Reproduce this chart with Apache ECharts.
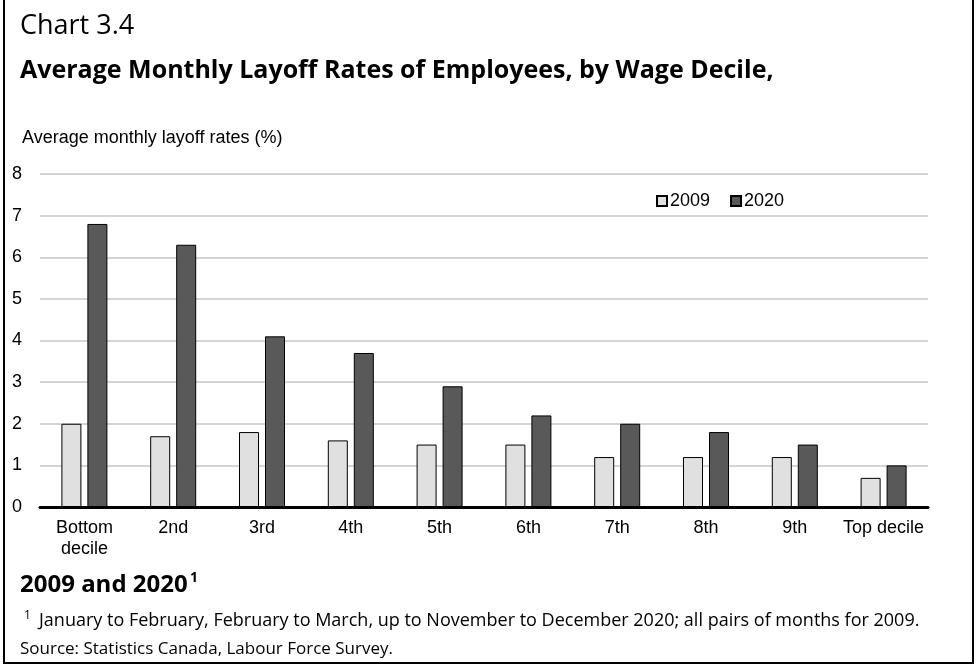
<!DOCTYPE html>
<html>
<head>
<meta charset="utf-8">
<script src="https://cdn.jsdelivr.net/npm/echarts@6/dist/echarts.min.js"></script>
<style>
  html, body { margin: 0; padding: 0; background: #fff; }
  #chart { width: 977px; height: 668px; }
</style>
</head>
<body>
<div id="chart"></div>
<script>
// Wage deciles and average monthly layoff rates (%)
const categories = ['Bottom\ndecile', '2nd', '3rd', '4th', '5th', '6th', '7th', '8th', '9th', 'Top decile'];
const rates2009 = [2.0, 1.7, 1.8, 1.6, 1.5, 1.5, 1.2, 1.2, 1.2, 0.7];
const rates2020 = [6.8, 6.3, 4.1, 3.7, 2.9, 2.2, 2.0, 1.8, 1.5, 1.0];
const yTicks = [0, 1, 2, 3, 4, 5, 6, 7, 8];

const axisFont = 'Liberation Sans, Arial, sans-serif';
const textFont = '"Open Sans", "Noto Sans", sans-serif';

const chart = echarts.init(document.getElementById('chart'), null, { renderer: 'canvas' });

chart.setOption({
  animation: false,
  backgroundColor: '#ffffff',
  grid: { left: 40, right: 49, top: 174, bottom: 161, containLabel: false },
  legend: {
    data: ['2009', '2020'],
    left: 651, top: 187,
    itemWidth: 10, itemHeight: 10, itemGap: 20,
    textStyle: { fontFamily: axisFont, fontSize: 18, color: '#000', padding: [0, 0, 0, -2] },
    icon: 'rect'
  },
  xAxis: {
    type: 'category',
    data: categories,
    axisLine: { lineStyle: { color: '#000', width: 3 } },
    axisTick: { show: false },
    axisLabel: { fontFamily: axisFont, fontSize: 18, color: '#000', margin: 11, lineHeight: 21, interval: 0 }
  },
  yAxis: {
    type: 'value',
    min: yTicks[0], max: yTicks[yTicks.length - 1], interval: 1,
    axisLine: { show: false },
    axisTick: { show: false },
    axisLabel: { fontFamily: axisFont, fontSize: 18, color: '#000', margin: 18 },
    splitLine: { lineStyle: { color: '#d4d4d4', width: 2 } }
  },
  series: [
    {
      name: '2009', type: 'bar', data: rates2009,
      barWidth: 20, barGap: '30%',
      itemStyle: { color: '#e0e0e0', borderColor: '#000', borderWidth: 1 }
    },
    {
      name: '2020', type: 'bar', data: rates2020,
      barWidth: 20,
      itemStyle: { color: '#595959', borderColor: '#000', borderWidth: 1 }
    }
  ],
  graphic: [
    { type: 'rect', shape: { x: 4, y: -4, width: 969, height: 667 }, style: { fill: 'none', stroke: '#000', lineWidth: 2 }, silent: true },
    { type: 'text', left: 20, top: 13, style: { text: 'Chart 3.4', font: '27px ' + textFont, fill: '#000' } },
    { type: 'text', left: 20, top: 58, style: { text: 'Average Monthly Layoff Rates of Employees, by Wage Decile,', font: 'bold 25px ' + textFont, fill: '#000' } },
    { type: 'text', left: 22, top: 129, style: { text: 'Average monthly layoff rates (%)', font: '18px ' + axisFont, fill: '#000' } },
    { type: 'text', left: 20, top: 573, style: { text: '2009 and 2020', font: 'bold 24px ' + textFont, fill: '#000' } },
    { type: 'text', left: 190, top: 571, style: { text: '1', font: 'bold 14px ' + textFont, fill: '#000' } },
    { type: 'text', left: 24, top: 610, style: { text: '1', font: '12px ' + textFont, fill: '#000' } },
    { type: 'text', left: 39, top: 612, style: { text: 'January to February, February to March, up to November to December 2020; all pairs of months for 2009.', font: '18px ' + textFont, fill: '#000' } },
    { type: 'text', left: 20, top: 641, style: { text: 'Source: Statistics Canada, Labour Force Survey.', font: '17px ' + textFont, fill: '#000' } }
  ]
});
</script>
</body>
</html>
